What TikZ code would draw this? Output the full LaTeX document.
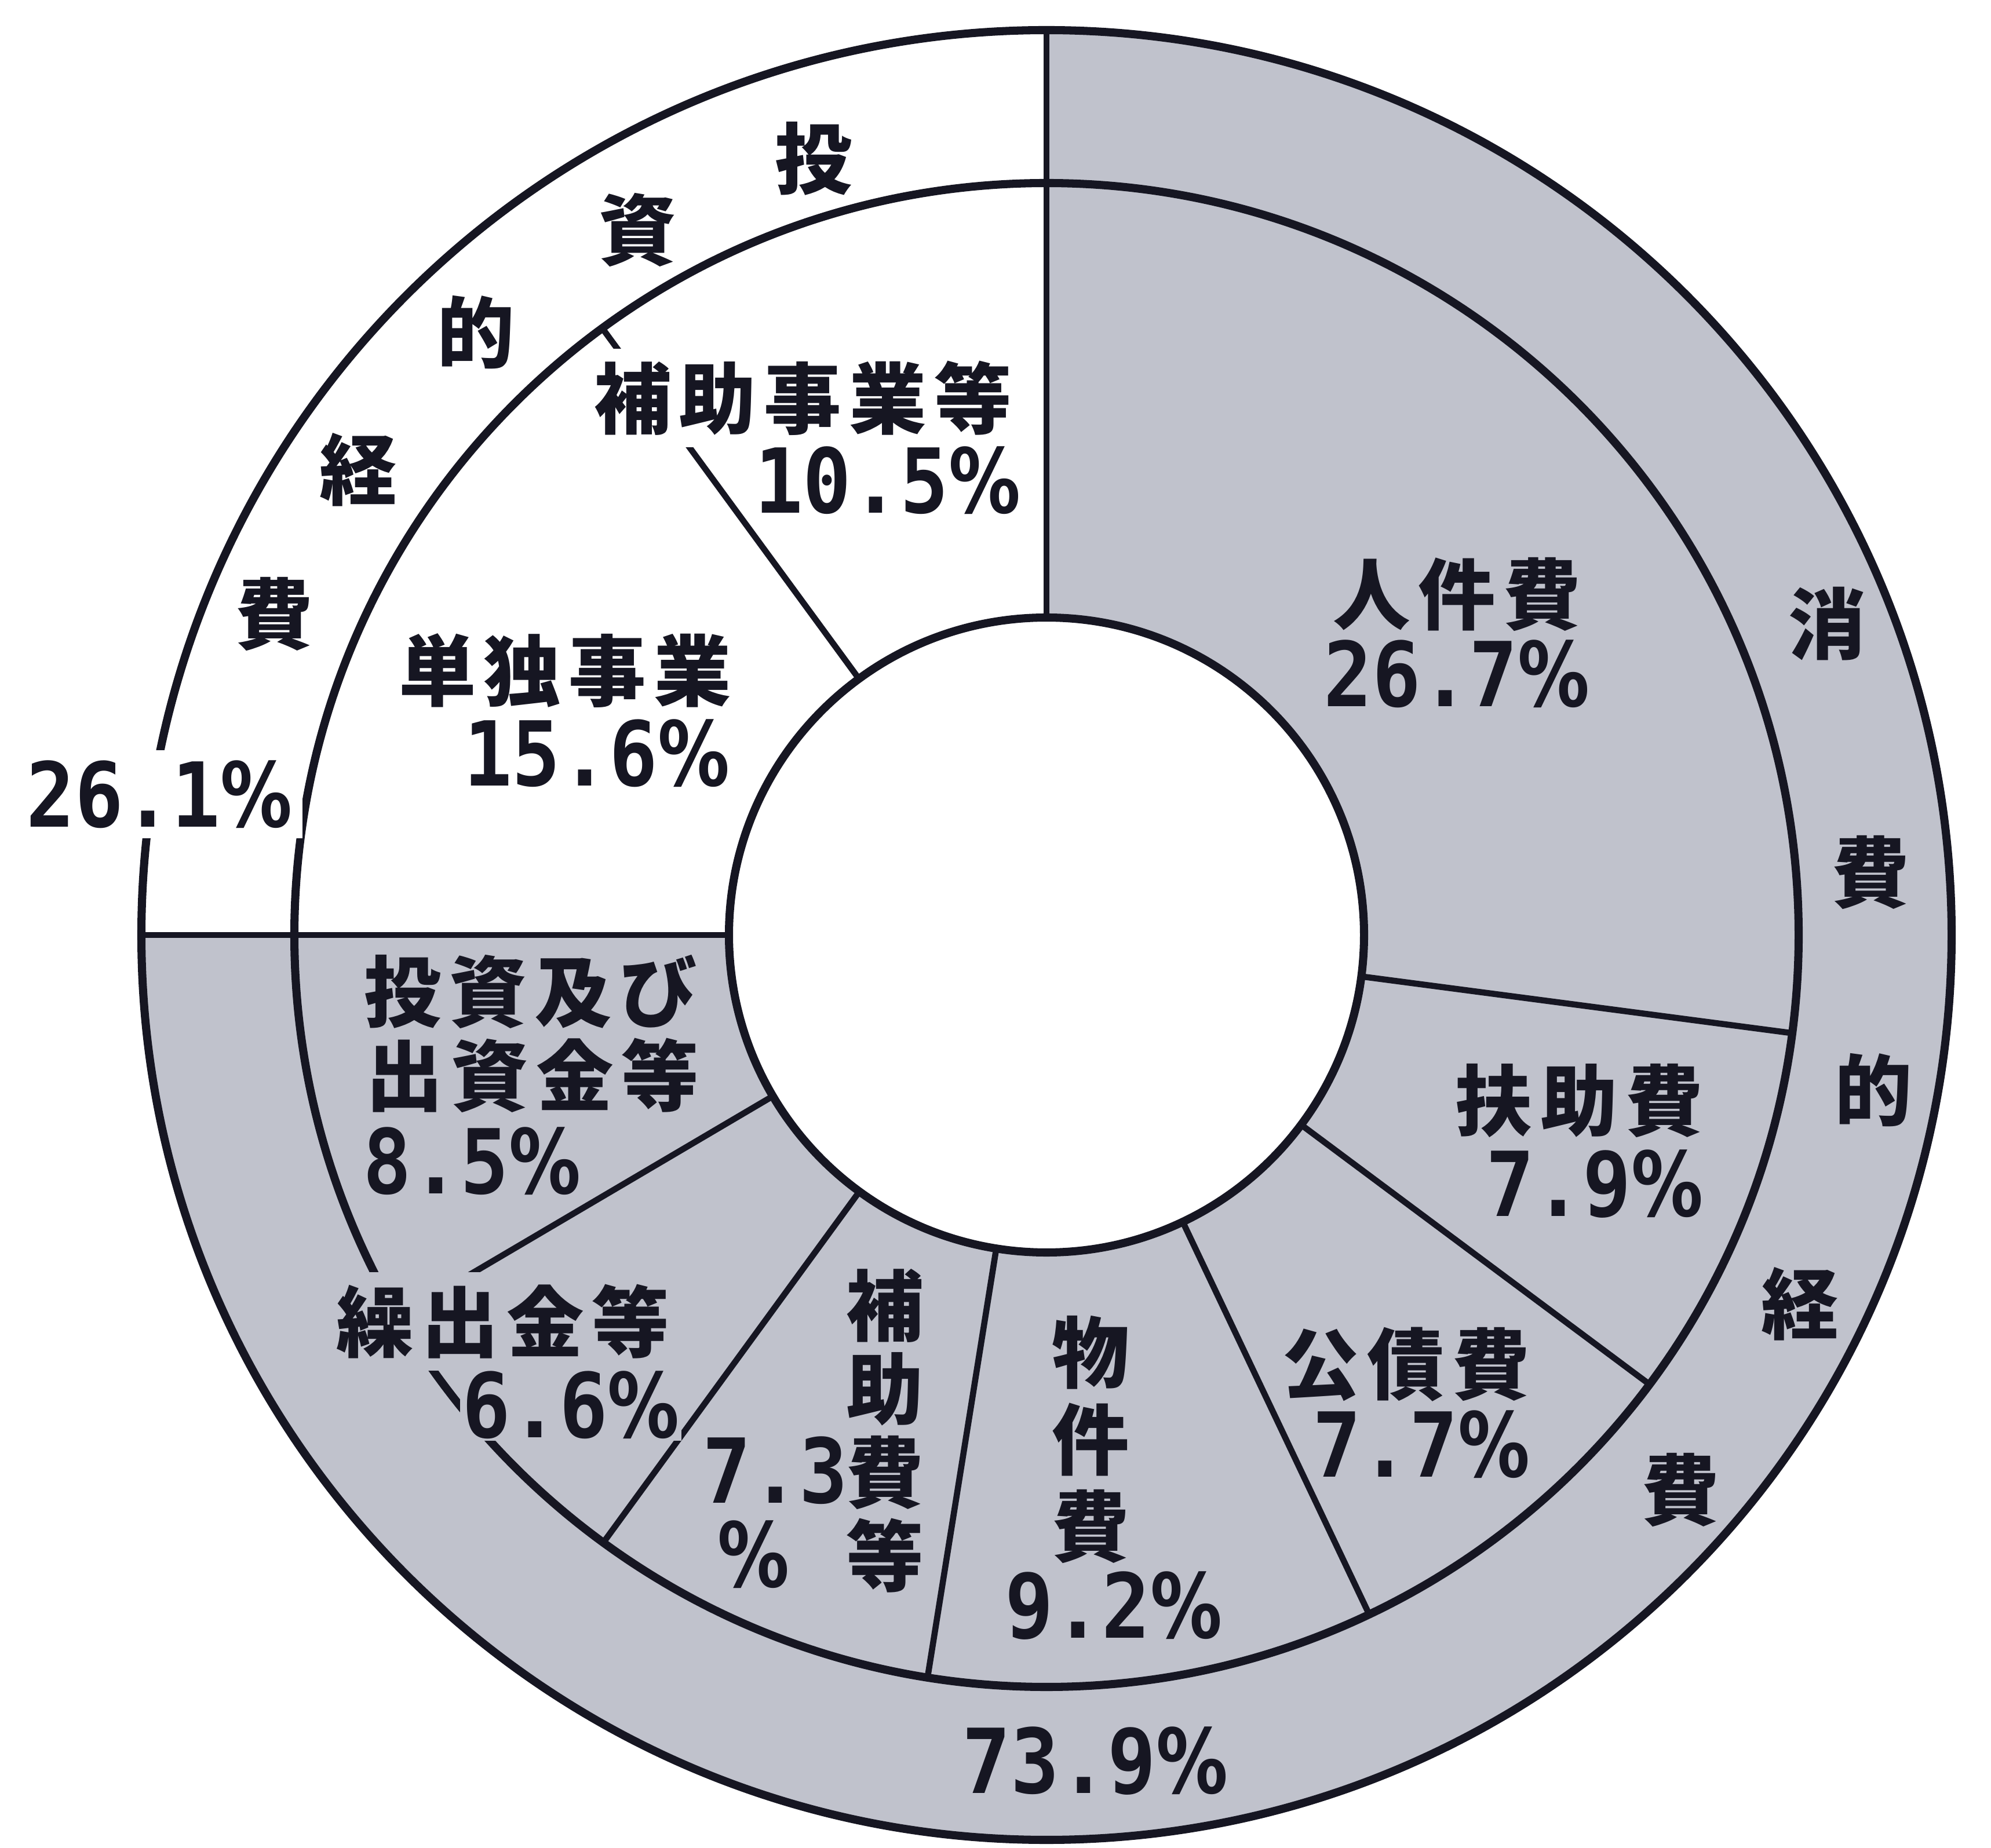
\documentclass[tikz,border=0pt]{standalone}
\usepackage{fontspec}
\newfontfamily\jpf{Noto Sans CJK JP}[LetterSpace=10]
\newfontfamily\numf{DejaVu Sans Mono}[FakeStretch=0.9]
\newfontfamily\pctf{DejaVu Sans}[FakeStretch=0.8]
\newcommand{\pcsign}{{\pctf\bfseries\%}}
\usetikzlibrary{calc}
\definecolor{fillgray}{RGB}{192,194,204}
\definecolor{inkc}{RGB}{22,22,34}
\begin{document}
\begin{tikzpicture}[
  jp/.style={font=\jpf\bfseries\fontsize{38pt}{41pt}\selectfont, inner sep=0pt, text=inkc},
  jpv/.style={jp, align=center},
  nm/.style={font=\numf\bfseries\fontsize{44pt}{46pt}\selectfont, inner sep=0pt, text=inkc},
  ring/.style={draw=inkc, line width=4pt},
  divline/.style={draw=inkc, line width=3pt},
]
\useasboundingbox (0,0) rectangle (34.36,31.89);
\coordinate (C) at (18.06,15.75);
% fills
\fill[fillgray] (C) circle[radius=15.62];
\fill[white] (C) -- ++(90:15.62) arc[start angle=90,end angle=180,radius=15.62] -- cycle;
\fill[white] (C) circle[radius=5.48];
% dividing lines
\foreach \a in {90,180}
  \draw[divline] ($(C)+(\a:5.48)$) -- ($(C)+(\a:15.62)$);
\foreach \a in {126.2,-7.5,-36.7,-64.6,-99.1,-126.1,-149.5}
  \draw[divline] ($(C)+(\a:5.48)$) -- ($(C)+(\a:12.98)$);
% circles
\draw[ring] (C) circle[radius=15.62];
\draw[ring] (C) circle[radius=12.98];
\draw[ring] (C) circle[radius=5.48];
% investment side labels
\node[jp, anchor=east, fill=white, inner sep=6pt] (hojo1) at (17.68,25.02) {補助事業等};
\node[nm, anchor=east] (hojo2) at (17.62,23.60) {10.5\pcsign};
\node[jp, anchor=east] (tan1) at (12.63,20.31) {単独事業};
\node[nm, anchor=east] (tan2) at (12.60,18.89) {15.6\pcsign};
\node[nm, fill=white, inner sep=5pt] (tot1) at (2.75,18.18) {26.1\pcsign};
% outer ring: investment
\node[jp] (o1) at (14.04,29.15) {投};
\node[jp] (o2) at (11.00,27.92) {資};
\node[jp] (o3) at (8.21,26.15) {的};
\node[jp] (o4) at (6.18,23.78) {経};
\node[jp] (o5) at (4.73,21.29) {費};
% outer ring: consumption
\node[jp] (c1) at (31.53,21.12) {消};
\node[jp] (c2) at (32.28,16.83) {費};
\node[jp] (c3) at (32.33,13.07) {的};
\node[jp] (c4) at (31.06,9.38) {経};
\node[jp] (c5) at (29.00,6.17) {費};
\node[nm] (tot2) at (18.90,1.49) {73.9\pcsign};
% consumption inner labels
\node[jp] (jin1) at (25.14,21.63) {人件費};
\node[nm] (jin2) at (25.14,20.26) {26.7\pcsign};
\node[jp, anchor=east] (fuj1) at (29.40,12.89) {扶助費};
\node[nm, anchor=east] (fuj2) at (29.40,11.45) {7.9\pcsign};
\node[jp, anchor=east] (kos1) at (26.41,8.34) {公債費};
\node[nm, anchor=east] (kos2) at (26.41,6.96) {7.7\pcsign};
\node[jpv, font=\jpf\bfseries\fontsize{38pt}{42.6pt}\selectfont] (bus1) at (18.82,7.04) {物\\件\\費};
\node[nm] (bus2) at (19.22,4.17) {9.2\pcsign};
\node[jpv] (hoj1) at (15.27,7.19) {補\\助\\費\\等};
\node[nm] (hoj2) at (13.38,6.51) {7.3};
\node[nm] (hoj3) at (13.00,5.06) {\pcsign};
\node[jp, anchor=east, fill=fillgray, inner sep=6pt] (kur1) at (11.77,9.08) {繰出金等};
\node[nm, anchor=east, fill=fillgray, inner sep=1pt] (kur2) at (11.77,7.64) {6.6\pcsign};
\node[jp, anchor=west] (tos1) at (6.28,14.77) {投資及び};
\node[jp, anchor=west] (tos2) at (6.31,13.33) {出資金等};
\node[nm, anchor=west] (tos3) at (6.26,11.85) {8.5\pcsign};
\end{tikzpicture}
\end{document}
